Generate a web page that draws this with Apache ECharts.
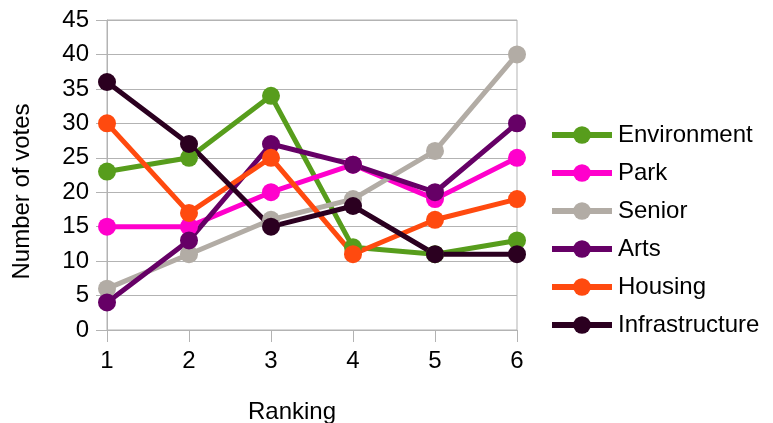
<!DOCTYPE html>
<html><head><meta charset="utf-8">
<script src="https://cdn.jsdelivr.net/npm/echarts@6/dist/echarts.min.js"></script>
<style>html,body{margin:0;padding:0;background:#fff}#c{width:773px;height:423px}</style>
</head><body><div id="c"></div>
<script>
const categories = ['1','2','3','4','5','6'];
const seriesNames = ['Environment','Park','Senior','Arts','Housing','Infrastructure'];
const environment = [23,25,34,12,11,13];
const park = [15,15,20,24,19,25];
const senior = [6,11,16,19,26,40];
const arts = [4,13,27,24,20,30];
const housing = [30,17,25,11,16,19];
const infrastructure = [36,27,15,18,11,11];
const colors = ['#579d1c','#ff00cc','#b2aca5','#660066','#ff4a0f','#2b0020'];
const values = [environment, park, senior, arts, housing, infrastructure];
const font = 'Liberation Sans, Arial, sans-serif';
const chart = echarts.init(document.getElementById('c'));
chart.setOption({
  animation:false,
  textStyle:{fontFamily:font},
  grid:{left:107,right:256,top:20,bottom:93,show:true,borderColor:'#b3b3b3',borderWidth:1,containLabel:false,outerBoundsMode:'none'},
  legend:{
    orient:'vertical', left:544, top:118, itemWidth:60, itemHeight:22, itemGap:14,
    lineStyle:{width:6},
    textStyle:{fontSize:24,lineHeight:24,color:'#000',fontFamily:font,padding:[0,0,0,1]},
    data:seriesNames
  },
  xAxis:{
    type:'category', data:categories, boundaryGap:false,
    name:'Ranking', nameLocation:'middle', nameGap:70,
    nameTextStyle:{fontSize:24,color:'#000',fontFamily:font,padding:[0,40,0,0]},
    axisLine:{lineStyle:{color:'#b3b3b3',width:1}},
    axisTick:{show:true,length:12,alignWithLabel:true,lineStyle:{color:'#b3b3b3'}},
    axisLabel:{fontSize:24,color:'#000',margin:19,fontFamily:font},
    splitLine:{show:false}
  },
  yAxis:{
    type:'value', min:0, max:45, interval:5,
    name:'Number of votes', nameLocation:'middle', nameGap:73,
    nameTextStyle:{fontSize:24,color:'#000',fontFamily:font,padding:[0,33,0,0]},
    axisLine:{show:true,lineStyle:{color:'#b3b3b3',width:1}},
    axisTick:{show:true,length:11,lineStyle:{color:'#b3b3b3'}},
    axisLabel:{fontSize:24,color:'#000',margin:18,fontFamily:font},
    splitLine:{show:true,lineStyle:{color:'#b3b3b3',width:1}}
  },
  series: seriesNames.map((n,i)=>({
    name:n, type:'line', data:values[i], color:colors[i],
    symbol:'circle', symbolSize:18, lineStyle:{width:5,color:colors[i]},
    itemStyle:{color:colors[i]}
  }))
});
</script></body></html>
